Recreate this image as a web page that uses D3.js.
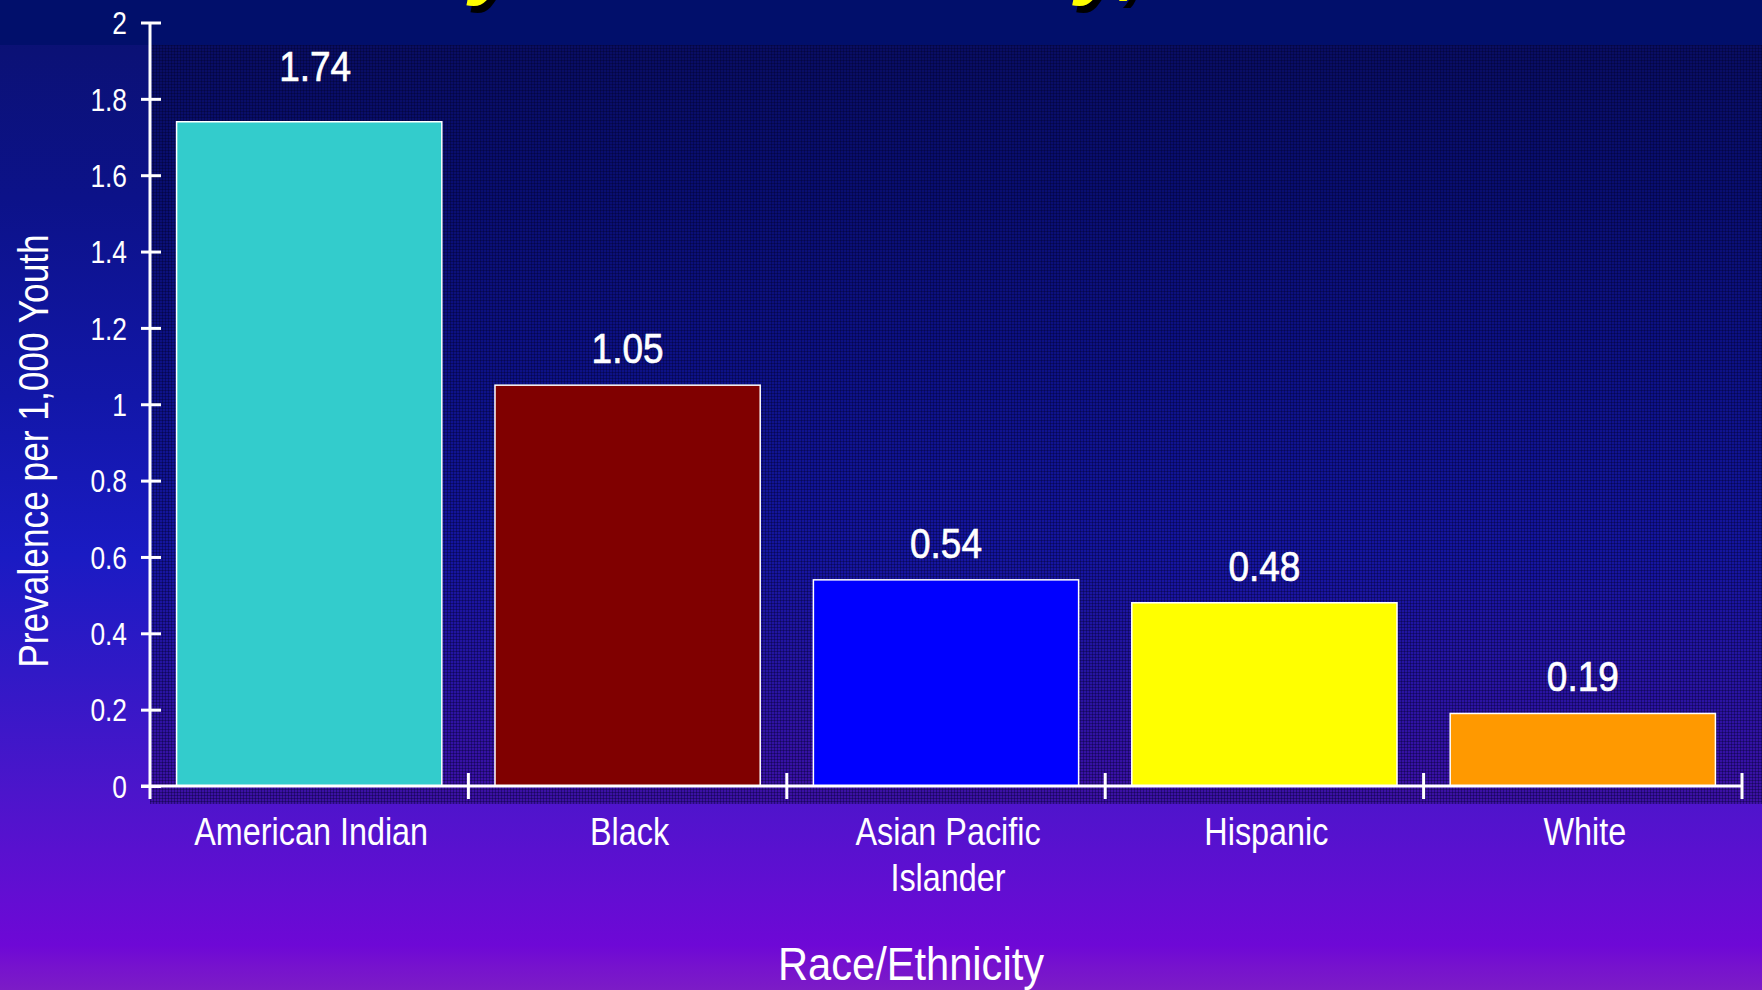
<!DOCTYPE html>
<html><head><meta charset="utf-8">
<script src="https://cdn.jsdelivr.net/npm/d3@7"></script>
<style>html,body{margin:0;padding:0;background:#0B1176;overflow:hidden}svg{display:block}</style>
</head><body>
<svg id="c" width="1762" height="990"></svg>
<script>
const categories = ["American Indian", "Black", "Asian Pacific\nIslander", "Hispanic", "White"];
const values = [1.74, 1.05, 0.54, 0.48, 0.19];
const valueLabels = ["1.74", "1.05", "0.54", "0.48", "0.19"];
const barColors = ["#33CCCC", "#800000", "#0000FF", "#FFFF00", "#FF9900"];
const yTicks = [0, 0.2, 0.4, 0.6, 0.8, 1, 1.2, 1.4, 1.6, 1.8, 2];
const yTickLabels = ["0", "0.2", "0.4", "0.6", "0.8", "1", "1.2", "1.4", "1.6", "1.8", "2"];
const yTitle = "Prevalence per 1,000 Youth";
const xTitle = "Race/Ethnicity";
const title = "Prevalence by Race/Ethnicity, 2001";

const W = 1762, H = 990;
const NARROW = 0.82;
const FONT = "'Liberation Sans', Arial, sans-serif";
const svg = d3.select("#c");
const defs = svg.append("defs");

const bg = defs.append("linearGradient").attr("id","bg").attr("x1",0).attr("y1",0).attr("x2",0).attr("y2",1);
[[0,"#0A0E70"],[0.05,"#0B1176"],[0.2,"#0C1289"],[0.4,"#1217A8"],[0.56,"#1A1BC3"],[0.68,"#3119C6"],[0.8,"#4C15CB"],[0.9,"#620ED2"],[0.955,"#6E08D6"],[0.975,"#7612CE"],[1,"#7C1CC6"]]
  .forEach(s => bg.append("stop").attr("offset",s[0]).attr("stop-color",s[1]));

const pat = defs.append("pattern").attr("id","dots").attr("patternUnits","userSpaceOnUse").attr("width",3).attr("height",3);
pat.append("rect").attr("width",3).attr("height",3).attr("fill","rgba(0,0,30,0.22)");
pat.append("rect").attr("width",3).attr("height",1).attr("fill","rgba(0,0,40,0.35)");
pat.append("rect").attr("width",1).attr("height",3).attr("fill","rgba(0,0,40,0.35)");

svg.append("rect").attr("width",W).attr("height",H).attr("fill","url(#bg)");
svg.append("rect").attr("width",W).attr("height",45).attr("fill","#010F6B");

const x0 = 150, x1 = 1742, yTop = 22.5, yBase = 786;
const x = d3.scaleBand().domain(d3.range(categories.length)).range([x0, x1]).paddingInner(0.167).paddingOuter(0.0835);
const y = d3.scaleLinear().domain([0, 2]).range([yBase, yTop]);

svg.append("rect").attr("x",x0).attr("y",45).attr("width",W - x0).attr("height",804 - 45).attr("fill","url(#dots)");

// title (mostly cut off at the top)
const tg = svg.append("g");
function addTitle(fill, dx, dy){
  return tg.append("text").text(title).attr("font-family",FONT).attr("font-weight","bold").attr("font-style","italic")
    .attr("font-size",60).attr("fill",fill).attr("x",dx).attr("y",dy);
}
const tmp = addTitle("none", 0, 0);
const n = tmp.node();
const i1 = title.indexOf("by") + 1, i2 = title.indexOf("y,");
const p1 = n.getStartPositionOfChar(i1).x, p2 = n.getStartPositionOfChar(i2).x;
const fs = 60 * (1073 - 467) / (p2 - p1);
tmp.remove();
const tx = 470 - p1 * fs / 60;
const tb = 5 - 0.2 * fs;
addTitle("#000000", tx + 4, tb + 7).attr("font-size", fs);
addTitle("#FFFF00", tx, tb).attr("font-size", fs);

// bars
svg.append("g").selectAll("rect").data(values).join("rect")
  .attr("x",(d,i)=>x(i)).attr("y",d=>y(d)).attr("width",x.bandwidth()).attr("height",d=>y(0)-y(d))
  .attr("fill",(d,i)=>barColors[i]).attr("stroke","#FFFFFF").attr("stroke-width",1.5);

function narrowText(g, str, px, py, size, anchor, sx){
  const s = sx || NARROW;
  return g.append("text").attr("transform",`translate(${px},${py}) scale(${s},1)`)
    .attr("text-anchor",anchor).attr("font-family",FONT).attr("font-size",size).attr("fill","#FFFFFF").text(str);
}

// value labels
const vl = svg.append("g");
const vmax = d3.max(values);
values.forEach((v,i)=> narrowText(vl, valueLabels[i], x(i)+x.bandwidth()/2 + (v === vmax ? 6 : 0), y(v) - (v === vmax ? 41 : 22), 43, "middle", 0.86)
  .attr("stroke","#FFFFFF").attr("stroke-width",0.7));

// y axis
const yAxis = d3.axisLeft(y).tickValues(yTicks).tickFormat((d,i)=>yTickLabels[i]).tickSizeInner(10).tickSizeOuter(0).tickPadding(13);
const ya = svg.append("g").attr("transform",`translate(${x0},0)`).call(yAxis);
ya.select(".domain").remove();
ya.selectAll(".tick line").attr("x2",11).attr("x1",-9).attr("stroke","#FFFFFF").attr("stroke-width",3);
ya.selectAll(".tick text").each(function(){
  const t = d3.select(this);
  t.attr("transform",`translate(-23,0) scale(0.85,1)`).attr("x",0).attr("dy","0.36em")
   .attr("font-family",FONT).attr("font-size",31).attr("fill","#FFFFFF");
});
svg.append("line").attr("x1",x0).attr("x2",x0).attr("y1",y(2)).attr("y2",yBase+13).attr("stroke","#FFFFFF").attr("stroke-width",3);

// x axis
const xa = svg.append("g");
xa.append("line").attr("x1",x0-9).attr("x2",x1).attr("y1",yBase).attr("y2",yBase).attr("stroke","#FFFFFF").attr("stroke-width",3);
xa.selectAll("line.tk").data(d3.range(1, categories.length + 1)).join("line").attr("class","tk")
  .attr("x1",i=> i === categories.length ? x1 : (x(i-1)+x.bandwidth()+x(i))/2)
  .attr("x2",i=> i === categories.length ? x1 : (x(i-1)+x.bandwidth()+x(i))/2)
  .attr("y1",yBase-13).attr("y2",yBase+13).attr("stroke","#FFFFFF").attr("stroke-width",3);

const cl = svg.append("g");
categories.forEach((c,i)=>{
  c.split("\n").forEach((line,j)=> narrowText(cl, line, x(i)+x.bandwidth()/2 + 2, 845 + j*46, 39, "middle", 0.83));
});

// axis titles
svg.append("text").attr("transform",`translate(48,451) rotate(-90) scale(0.83,1)`).attr("text-anchor","middle")
  .attr("font-family",FONT).attr("font-size",42.5).attr("fill","#FFFFFF").text(yTitle);
narrowText(svg, xTitle, 911, 980, 46, "middle", 0.905);
</script>
</body></html>
